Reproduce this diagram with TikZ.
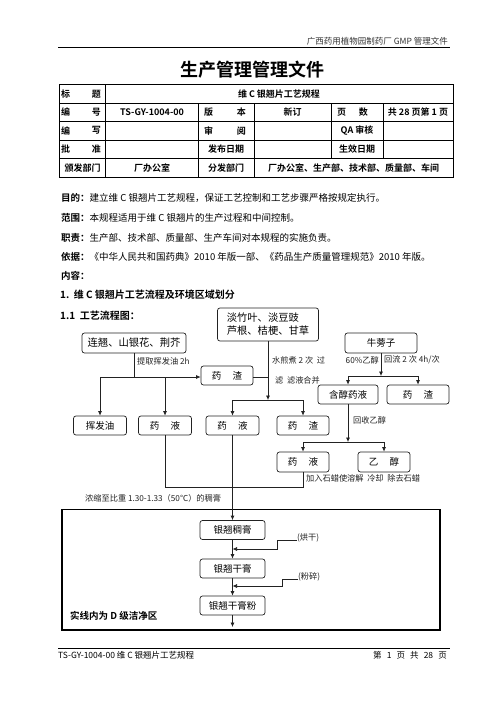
\documentclass[tikz,border=0pt]{standalone}
\usepackage{fontspec}
\setmainfont{Noto Sans CJK SC}[BoldFont={Noto Sans CJK SC Bold}]
\usetikzlibrary{arrows.meta}
\definecolor{ink}{HTML}{222222}
\begin{document}
\begin{tikzpicture}[x=1pt,y=-1pt,
  box/.style={draw=ink, rounded corners=2.5pt, line width=0.7pt, inner sep=0pt, font=\fontsize{9.5}{11}\selectfont},
  lbl/.style={inner sep=0pt, anchor=west, font=\fontsize{8.2}{9}\selectfont, text=ink},
  txt/.style={inner sep=0pt, anchor=west, font=\fontsize{9.5}{11}\selectfont},
  tb/.style={inner sep=0pt, font=\bfseries\fontsize{9}{11}\selectfont},
  ln/.style={line width=0.7pt, draw=ink},
  arr/.style={ln, -{Latex[length=4.5pt,width=4pt]}},
  tl/.style={line width=0.8pt}]
\useasboundingbox (0,0) rectangle (496,702);
\fill[white] (0,0) rectangle (496,702);
% header
\node[inner sep=0pt, anchor=east, font=\fontsize{8.5}{10}\selectfont, text=black!80] (hdr) at (448,41) {广西药用植物园制药厂 GMP 管理文件};
\draw[line width=0.8pt] (58,47) -- (450,47);
\node[inner sep=0pt, font=\bfseries\fontsize{18}{20}\selectfont] (title) at (252,70) {生产管理管理文件};
% table
\draw[tl] (59,84.5) rectangle (453,177);
\foreach \yy in {103,121.5,140,158.5} \draw[tl] (59,\yy) -- (453,\yy);
\draw[tl] (105.5,84.5) -- (105.5,177);
\draw[tl] (198,103) -- (198,177);
\draw[tl] (254,103) -- (254,177);
\draw[tl] (331,103) -- (331,158.5);
\draw[tl] (383,103) -- (383,158.5);
\node[tb, anchor=west] (t1a) at (61,93.75) {标};
\node[tb, anchor=east] (t1b) at (101,93.75) {题};
\node[tb] (t1c) at (279,93.75) {维 C 银翘片工艺规程};
\node[tb, anchor=west] (t2a) at (61,112.25) {编};
\node[tb, anchor=east] (t2b) at (101,112.25) {号};
\node[tb] (t2c) at (152,112.25) {TS-GY-1004-00};
\node[tb, anchor=west] (t2d) at (204,112.25) {版};
\node[tb, anchor=east] (t2e) at (246,112.25) {本};
\node[tb] (t2f) at (292.5,112.25) {新订};
\node[tb, anchor=west] (t2g) at (337,112.25) {页};
\node[tb, anchor=east] (t2h) at (368,112.25) {数};
\node[tb] (t2i) at (418,112.25) {共 28 页第 1 页};
\node[tb, anchor=west] (t3a) at (61,130.75) {编};
\node[tb, anchor=east] (t3b) at (101,130.75) {写};
\node[tb, anchor=west] (t3d) at (204,130.75) {审};
\node[tb, anchor=east] (t3e) at (246,130.75) {阅};
\node[tb] (t3g) at (357,130.75) {QA 审核};
\node[tb, anchor=west] (t4a) at (61,149.25) {批};
\node[tb, anchor=east] (t4b) at (101,149.25) {准};
\node[tb] (t4d) at (226,149.25) {发布日期};
\node[tb] (t4g) at (357,149.25) {生效日期};
\node[tb] (t5a) at (82.5,167.75) {颁发部门};
\node[tb] (t5b) at (152,167.75) {厂办公室};
\node[tb] (t5c) at (226,167.75) {分发部门};
\node[tb] (t5d) at (353.5,167.75) {厂办公室、生产部、技术部、质量部、车间};
% body text
\node[txt] (p1) at (61,198) {\textbf{目的：}建立维 C 银翘片工艺规程，保证工艺控制和工艺步骤严格按规定执行。};
\node[txt] (p2) at (61,218) {\textbf{范围：}本规程适用于维 C 银翘片的生产过程和中间控制。};
\node[txt] (p3) at (61,237.5) {\textbf{职责：}生产部、技术部、质量部、生产车间对本规程的实施负责。};
\node[txt] (p4) at (61,257) {\textbf{依据：}《中华人民共和国药典》2010 年版一部、《药品生产质量管理规范》2010 年版。};
\node[txt] (p5) at (61,276) {\textbf{内容：}};
\node[txt, font=\bfseries\fontsize{10}{12}\selectfont] (s1) at (60,294.5) {1.\ \ 维 C 银翘片工艺流程及环境区域划分};
\node[txt, font=\bfseries\fontsize{10}{12}\selectfont] (s2) at (60,316) {1.1\ \ 工艺流程图：};
% flowchart boxes
\node[box, minimum width=104, minimum height=20, font=\fontsize{10.3}{12}\selectfont] (lq) at (134,343) {连翘、山银花、荆芥};
\node[box, minimum width=101, minimum height=33, font=\fontsize{10.3}{13}\selectfont, align=left] (dz) at (268,324.5) {淡竹叶、淡豆豉\\芦根、桔梗、甘草};
\node[box, minimum width=72, minimum height=20] (nbz) at (381,343) {牛蒡子};
\node[box, minimum width=52, minimum height=19] (yz1) at (227,375.5) {药\hspace{1.2em}渣};
\node[box, minimum width=53, minimum height=19] (hfy) at (100,425.5) {挥发油};
\node[box, minimum width=53, minimum height=19] (yy1) at (165,425.5) {药\hspace{1.2em}液};
\node[box, minimum width=53, minimum height=19] (yy2) at (232.5,425.5) {药\hspace{1.2em}液};
\node[box, minimum width=52, minimum height=19] (yz2) at (303,425.5) {药\hspace{1.2em}渣};
\node[box, minimum width=60, minimum height=19] (hcyy) at (348,394.5) {含醇药液};
\node[box, minimum width=62, minimum height=19] (yz3) at (418,394.5) {药\hspace{1.2em}渣};
\node[box, minimum width=52, minimum height=20] (yy3) at (303,462) {药\hspace{1.2em}液};
\node[box, minimum width=52, minimum height=20] (yc) at (384,462) {乙\hspace{1.2em}醇};
\node[box, minimum width=65, minimum height=19] (ycg) at (232.5,530) {银翘稠膏};
\node[box, minimum width=65, minimum height=19] (ygg) at (232.5,568.5) {银翘干膏};
\node[box, minimum width=65, minimum height=19] (yggf) at (232.5,605.5) {银翘干膏粉};
% clean zone
\draw[line width=1.6pt] (62,509.5) rectangle (440,630);
\node[txt, font=\bfseries\fontsize{9.5}{11}\selectfont] (zone) at (70,616) {实线内为 D 级洁净区};
% connectors: left branch
\coordinate (j1) at (134,377);
\coordinate (j1l) at (100,377);
\draw[ln] (lq.south) -- (j1);
\draw[arr] (j1l) -- (yz1.west |- j1);
\draw[arr] (j1l) -- (hfy.north);
\draw[arr] (yy1.north |- j1) -- (yy1.north);
\draw[ln] (yz1.east |- j1) -- (268,377);
\node[lbl] (l1) at (137,361) {提取挥发油 2h};
% middle branch
\coordinate (j2) at (268,400);
\draw[arr] (dz.south) -- (j2);
\draw[ln] (yy2.north |- j2) -- (yz2.north |- j2);
\draw[arr] (yy2.north |- j2) -- (yy2.north);
\draw[arr] (yz2.north |- j2) -- (yz2.north);
\node[lbl] (l2) at (272,360) {水煎煮 2 次\ \ 过};
\node[lbl] (l3) at (275,380) {滤\ \ 滤液合并};
% right branch
\coordinate (j3) at (381,376);
\draw[arr] (nbz.south) -- (j3);
\draw[ln] (hcyy.north |- j3) -- (yz3.north |- j3);
\draw[arr] (hcyy.north |- j3) -- (hcyy.north);
\draw[arr] (yz3.north |- j3) -- (yz3.north);
\node[lbl, anchor=east] (l4) at (379,360) {60\%乙醇};
\node[lbl] (l5) at (384,360) {回流 2 次 4h/次};
\coordinate (j4) at (348,442);
\draw[arr] (hcyy.south) -- (j4);
\draw[ln] (yy3.north |- j4) -- (yc.north |- j4);
\draw[arr] (yy3.north |- j4) -- (yy3.north);
\draw[arr] (yc.north |- j4) -- (yc.north);
\node[lbl] (l6) at (353,420) {回收乙醇};
\node[lbl] (l7) at (306,478) {加入石蜡使溶解\ \ 冷却\ \ 除去石蜡};
% merge to concentrate
\coordinate (j5) at (303,487);
\draw[ln] (yy3.south) -- (j5) -- (yy1.south |- j5) -- (yy1.south);
\draw[arr] (yy2.south) -- (ycg.north);
\node[lbl] (l8) at (85,498) {浓缩至比重 1.30-1.33（50℃）的稠膏};
% inside clean zone
\draw[arr] (ycg.south) -- (ygg.north);
\draw[arr] (ygg.south) -- (yggf.north);
\coordinate (endz) at (232.5,627);
\draw[arr] (yggf.south) -- (endz);
\coordinate (hg) at (297,540);
\coordinate (hgk) at (277,549);
\draw[arr] (hg) -- (277,540) -- (hgk) -- (hgk -| ycg.south);
\node[lbl] (l9) at (297,537.5) {(烘干)};
\coordinate (fs) at (298,579);
\coordinate (fsk) at (282,586);
\draw[arr] (fs) -- (282,579) -- (fsk) -- (fsk -| ygg.south);
\node[lbl] (l10) at (298,577) {(粉碎)};
% footer
\draw[line width=0.8pt] (58,648) -- (450,648);
\node[inner sep=0pt, anchor=west, font=\fontsize{8.5}{10}\selectfont] (ft1) at (58,655) {TS-GY-1004-00 维 C 银翘片工艺规程};
\node[inner sep=0pt, anchor=east, font=\fontsize{8.5}{10}\selectfont] (ft2) at (447,655) {第\hspace{0.6em}1\hspace{0.6em}页\hspace{0.6em}共\hspace{0.6em}28\hspace{0.6em}页};
\end{tikzpicture}
\end{document}
